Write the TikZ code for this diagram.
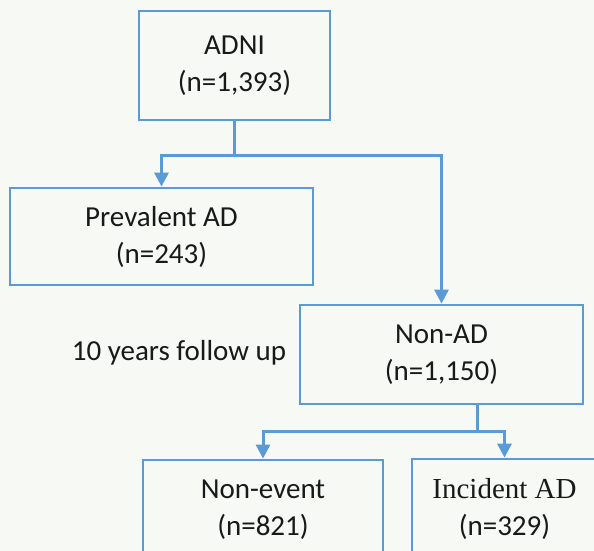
\documentclass[tikz,border=0pt]{standalone}
\usepackage{fontspec}
\setmainfont{Carlito}
\newfontfamily\timesf{Liberation Serif}
\usetikzlibrary{arrows.meta}
\definecolor{lineblue}{RGB}{91,155,213}
\definecolor{bgc}{RGB}{247,249,245}
\tikzset{
  box/.style={draw=lineblue, line width=2.8pt, rectangle, align=center, inner sep=0pt,
    font=\fontsize{29}{37}\selectfont, text=black!90},
  conn/.style={draw=lineblue, line width=3pt},
  arr/.style={conn, -{Triangle[width=14pt,length=14pt]}},
}
\begin{document}
\begin{tikzpicture}[x=1pt,y=-1pt]
\useasboundingbox (0,0) rectangle (594,551);
\fill[bgc] (0,0) rectangle (594,551);
\clip (0,0) rectangle (594,551);
\node[box, minimum width=191pt, minimum height=109pt] (adni) at (234.5,65.5) {ADNI\\(n=1,393)};
\node[box, minimum width=303pt, minimum height=97pt] (prev) at (161.5,236.5) {Prevalent AD\\(n=243)};
\node[box, minimum width=283pt, minimum height=99pt] (nonad) at (441.5,354.5) {Non-AD\\(n=1,150)};
\node[font=\fontsize{29}{37}\selectfont, inner sep=0pt, text=black!90] (fu) at (179,353) {10 years follow up};
\node[box, minimum width=240pt, minimum height=99pt] (nonev) at (263,509.5) {Non-event\\(n=821)};
\node[box, minimum width=185pt, minimum height=99pt] (inc) at (504.5,508.5) {{\timesf Incident AD}\\(n=329)};
\coordinate (j1) at (234.5,155);
\draw[conn] (adni.south) -- (j1);
\draw[arr] (j1) -| (prev.north);
\draw[arr] (j1) -| (nonad.north);
\coordinate (s2) at (477,404);
\coordinate (j2) at (477,431);
\draw[conn] (s2) -- (j2);
\draw[arr] (j2) -| (nonev.north);
\draw[arr] (j2) -| (inc.north);
\end{tikzpicture}
\end{document}
